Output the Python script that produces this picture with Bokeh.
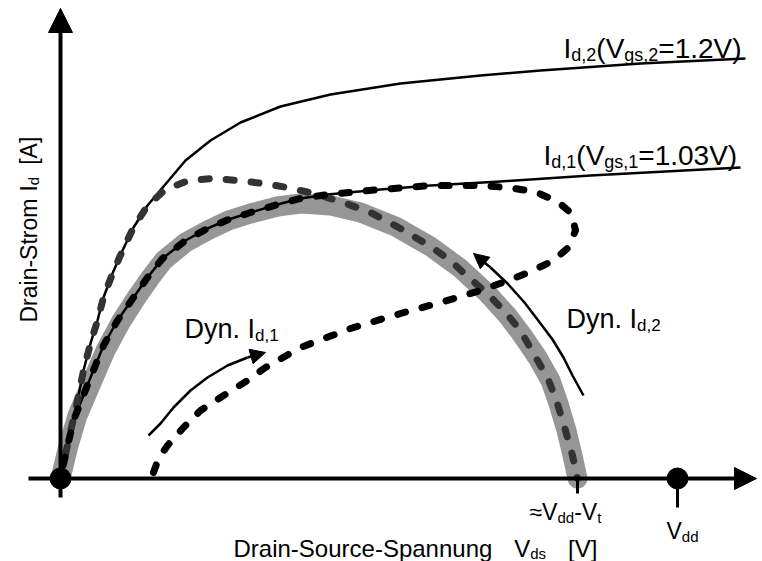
import numpy as np
from bokeh.plotting import figure
from bokeh.models import Range1d, Label, Arrow, NormalHead
from bokeh.embed import file_html
from bokeh.resources import INLINE

# ---- data (schematic units: 1 unit = 1 screen pixel, origin at axis crossing) ----
# Output characteristic Id,2 (Vgs,2 = 1.2 V)
id2_vds = [0, 8, 16, 23, 30, 37, 43, 52, 62, 73, 87, 103, 125, 150, 180, 220, 270, 340, 420, 480, 580, 685]
id2_id = [0, 38, 73, 108, 135, 158, 181, 205, 228, 251, 273, 292, 318, 338, 356, 372, 384, 395, 403, 408, 415, 420]

# Output characteristic Id,1 (Vgs,1 = 1.03 V)
id1_vds = [0, 6, 13, 30, 43, 57, 73, 87, 102, 125, 147, 168, 190, 217, 240, 267, 320, 370, 440, 530, 680]
id1_id = [0, 28, 58, 101, 133, 158, 181, 201, 220, 238, 250, 259, 266, 274, 280, 284, 289, 293, 297, 303, 311]

# Static (grey) load trajectory
band_vds = [0, 8, 17, 32, 45, 60, 76, 90, 103, 125, 147, 168, 190, 217, 240, 270, 300, 335, 370, 400,
            427, 447, 462, 477, 490, 498, 506, 512, 517]
band_id = [0, 33, 63, 98, 128, 156, 181, 201, 218, 236, 248, 258, 265, 272, 275, 273, 266, 252, 232, 210,
           185, 163, 143, 121, 98, 75, 48, 23, 0]

# Dynamic trajectory Dyn. Id,2 (dark grey dashed)
dyn2_vds = [0, 8, 16, 23, 30, 37, 43, 52, 62, 73, 87, 105, 128, 153, 177, 203, 227, 253, 280, 310, 340,
            370, 390, 408, 427, 445, 460, 473, 487, 496, 505, 512, 517]
dyn2_id = [0, 38, 73, 108, 135, 158, 181, 205, 228, 251, 273, 289, 298, 300, 298, 295, 291, 285, 277, 266,
           250, 232, 218, 201, 185, 166, 148, 125, 101, 78, 48, 23, 0]

# Dynamic trajectory Dyn. Id,1 (black dashed loop)
dyn1_vds = [93, 98, 107, 123, 140, 160, 187, 205, 240, 290, 340, 380, 420, 445, 468, 493, 508, 515, 511,
            497, 474, 447, 420, 370, 320, 267, 240, 217, 190, 168, 147, 125, 102, 87, 73, 57, 43, 30, 13, 6, 0]
dyn1_id = [6, 20, 33, 51, 68, 81, 98, 111, 131, 150, 165, 176, 188, 197, 206, 218, 231, 248, 265,
           277, 287, 291, 293, 293, 289, 284, 280, 274, 266, 259, 250, 238, 220, 201, 181, 158, 133, 101, 58, 28, 0]

# Direction arrows
arr1_vds = [88, 100, 113, 130, 147, 167, 187, 205]
arr1_id = [43, 55, 71, 88, 101, 113, 121, 126]
arr2_vds = [523, 512, 503, 492, 480, 464, 447, 430, 413]
arr2_id = [83, 103, 121, 139, 155, 176, 195, 211, 225]

# Marked voltages on the Vds axis
v_dd = 617
v_dd_minus_vt = 517

# ---- figure ----
p = figure(width=762, height=561, x_range=Range1d(-60, 702), y_range=Range1d(-83, 478),
           output_backend="svg", toolbar_location=None, min_border=0,
           x_axis_type=None, y_axis_type=None)
p.grid.visible = False
p.outline_line_color = None
p.background_fill_color = "white"

FONT = "Liberation Sans"

# grey band
p.line(band_vds, band_id, line_width=20, line_color="#969696", line_cap="round", line_join="round")
# characteristics
p.line(id1_vds, id1_id, line_width=2.5, line_color="black", line_join="round")
p.line(id2_vds, id2_id, line_width=2.5, line_color="black", line_join="round")
# dynamic trajectories
p.line(dyn2_vds, dyn2_id, line_width=7, line_color="#333333", line_dash="8 17",
       line_cap="round", line_join="round")
p.line(dyn1_vds, dyn1_id, line_width=7, line_color="black", line_dash="8 17",
       line_cap="round", line_join="round")

# direction arrows
for xs, ys in ((arr1_vds, arr1_id), (arr2_vds, arr2_id)):
    p.line(xs[:-1], ys[:-1], line_width=2.5, line_color="black", line_join="round")
    p.add_layout(Arrow(end=NormalHead(size=15, fill_color="black", line_color="black", line_width=1),
                       x_start=xs[-2], y_start=ys[-2], x_end=xs[-1], y_end=ys[-1],
                       line_width=2.5, line_color="black"))

# axes as arrows
p.add_layout(Arrow(end=NormalHead(size=24, fill_color="black", line_color="black", line_width=1),
                   x_start=0, y_start=-19, x_end=0, y_end=470, line_width=4, line_color="black"))
p.add_layout(Arrow(end=NormalHead(size=22, fill_color="black", line_color="black", line_width=1),
                   x_start=-32, y_start=0, x_end=696, y_end=0, line_width=4, line_color="black"))

# ticks
p.segment(x0=[v_dd, v_dd_minus_vt], y0=[0, 0], x1=[v_dd, v_dd_minus_vt], y1=[-29, -15],
          line_width=3, line_color="black")
# dots
p.scatter([0, v_dd], [0, 0], marker="circle", size=21, fill_color="black", line_color="black")

# ---- text ----
W = {' ': .278, '(': .333, ')': .333, ',': .278, '-': .333, '.': .278, '=': .584, '[': .278, ']': .278,
     'A': .667, 'D': .722, 'I': .278, 'S': .667, 'V': .667, 'a': .556, 'c': .5, 'd': .556, 'e': .556,
     'g': .556, 'i': .222, 'm': .833, 'n': .556, 'o': .556, 'p': .556, 'r': .333, 's': .5, 't': .278,
     'u': .556, 'y': .5, '\u2248': .548}


def tw(s, size):
    return sum(W.get(c, .556) for c in s) * size


def rich(x, y, pieces, size, sub_size, drop, vertical=False):
    pos = 0.0
    for piece in pieces:
        if isinstance(piece, (int, float)):
            pos += piece
            continue
        txt, sub = piece
        fs = sub_size if sub else size
        off = drop if sub else 0
        if vertical:
            lx, ly, ang = x + off, y + pos, np.pi / 2
        else:
            lx, ly, ang = x + pos, y - off, 0
        p.add_layout(Label(x=lx, y=ly, text=txt, angle=ang, text_font=FONT,
                           text_font_size=f"{fs}px", text_baseline="alphabetic",
                           text_align="left", text_color="black"))
        pos += tw(txt, fs)


rich(503, 430, [("I", False), ("d,2", True), ("(V", False), ("gs,2", True), ("=1.2V)", False)], 28, 18, 6)
rich(483, 323, [("I", False), ("d,1", True), ("(V", False), ("gs,1", True), ("=1.03V)", False)], 28, 18, 6)
rich(124, 150, [("Dyn. I", False), ("d,1", True)], 27, 17, 7)
rich(506, 160, [("Dyn. I", False), ("d,2", True)], 27, 17, 7)
rich(173, -70, [("Drain-Source-Spannung", False), 22, ("V", False), ("ds", True), 22, ("[V]", False)], 24, 15, 5)
rich(-32, 156, [("Drain-Strom", False), 7, ("I", False), ("d", True), 12, ("[A]", False)], 23, 15, 5, vertical=True)
rich(469, -33, [("\u2248V", False), ("dd", True), ("-V", False), ("t", True)], 23, 15, 6)
rich(606, -52, [("V", False), ("dd", True)], 23, 15, 6)

open("out.html", "w").write(file_html(p, INLINE))
